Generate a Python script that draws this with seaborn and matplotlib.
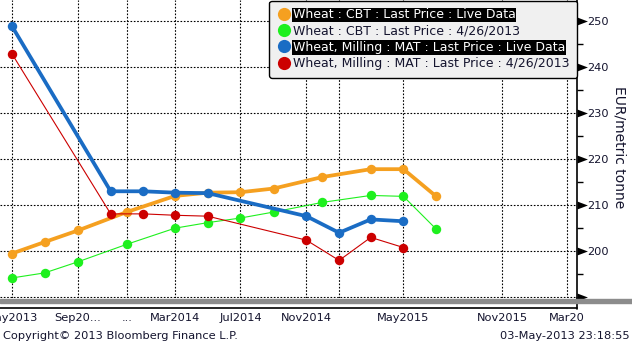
import datetime as dt
import matplotlib
matplotlib.use("Agg")
import matplotlib.pyplot as plt
from matplotlib.lines import Line2D
from matplotlib.patches import Rectangle
from matplotlib.path import Path
import pandas as pd
import seaborn as sns

# ---- data ----
cbt_dates = ["2013-05-01", "2013-07-01", "2013-09-01", "2013-12-01", "2014-03-01", "2014-05-01",
             "2014-07-01", "2014-09-01", "2014-12-01", "2015-03-01", "2015-05-01", "2015-07-01"]
cbt_live = [199.5, 202.0, 204.5, 208.5, 212.0, 212.7, 212.8, 213.6, 216.1, 217.8, 217.8, 211.9]
cbt_prev = [194.2, 195.3, 197.7, 201.5, 205.0, 206.2, 207.2, 208.5, 210.6, 212.1, 211.9, 204.8]

mat_dates = ["2013-05-01", "2013-11-01", "2014-01-01", "2014-03-01", "2014-05-01",
             "2014-11-01", "2015-01-01", "2015-03-01", "2015-05-01"]
mat_live = [248.8, 213.0, 213.0, 212.7, 212.6, 207.6, 204.0, 206.9, 206.5]
mat_prev = [242.8, 208.1, 208.1, 207.8, 207.6, 202.4, 198.0, 203.0, 200.8]

series_names = ["Wheat : CBT : Last Price : Live Data",
                "Wheat : CBT : Last Price : 4/26/2013",
                "Wheat, Milling : MAT : Last Price : Live Data",
                "Wheat, Milling : MAT : Last Price : 4/26/2013"]
series_colors = ["#F5A020", "#1EF01E", "#1A6CC4", "#CC0000"]

tick_dates = ["2013-05-01", "2013-09-01", "2013-12-01", "2014-03-01", "2014-07-01",
              "2014-11-01", "2015-01-01", "2015-05-01", "2015-11-01", "2016-03-01"]
tick_labels = ["May2013", "Sep20...", "...", "Mar2014", "Jul2014", "Nov2014", "",
               "May2015", "Nov2015", "Mar20"]
y_ticks = [190, 200, 210, 220, 230, 240, 250]
y_tick_labels = ["", "200", "210", "220", "230", "240", "250"]

# ---- frames ----
frames = [
    pd.DataFrame({"date": pd.to_datetime(cbt_dates), "price": cbt_live}),
    pd.DataFrame({"date": pd.to_datetime(cbt_dates), "price": cbt_prev}),
    pd.DataFrame({"date": pd.to_datetime(mat_dates), "price": mat_live}),
    pd.DataFrame({"date": pd.to_datetime(mat_dates), "price": mat_prev}),
]
widths = [2.7, 0.8, 2.7, 0.8]
draw_order = [1, 3, 0, 2]

sns.set_style("white")
plt.rcParams["font.family"] = ["DejaVu Sans"]
txt_color = "#14142e"

fig = plt.figure(figsize=(6.32, 3.44), dpi=100)
ax = fig.add_axes([0.0, (344 - 298) / 344, 577 / 632, 298 / 344])

for i in draw_order:
    sns.lineplot(data=frames[i], x="date", y="price", ax=ax, color=series_colors[i],
                 linewidth=widths[i], marker="o", markersize=6.8, markeredgewidth=0,
                 legend=False, zorder=3 + i)

ax.set_xlim(pd.Timestamp("2013-04-08 14:00"), pd.Timestamp("2016-03-19 16:00"))
ax.set_ylim(189.85, 254.5)
ax.set_xlabel("")
ax.set_ylabel("")

ax.set_xticks(pd.to_datetime(tick_dates))
ax.set_xticklabels(tick_labels)
ax.set_yticks(y_ticks)
ax.set_yticklabels(y_tick_labels)
ax.set_yticks([195, 205, 215, 225, 235, 245], minor=True)

ax.yaxis.tick_right()
ax.tick_params(axis="x", length=0, pad=11, labelsize=8.2, colors=txt_color)
ax.tick_params(axis="y", which="major", length=0, pad=7, labelsize=8.2, colors=txt_color)
ax.tick_params(axis="y", which="minor", direction="out", length=4, width=1, color="black", right=True, left=False)

ax.grid(True, which="major", color="black", linestyle=(0, (1.5, 1.5)), linewidth=0.8)
for side in ["top", "left", "bottom"]:
    ax.spines[side].set_visible(False)
ax.spines["right"].set_color("black")
ax.spines["right"].set_linewidth(1.2)

# arrow-shaped major ticks on the right spine (triangle to the right of the spine)
arrow = Path([(0, -0.38), (1, 0), (0, 0.38), (0, -0.38)],
             [Path.MOVETO, Path.LINETO, Path.LINETO, Path.CLOSEPOLY])
ytr = ax.get_yaxis_transform()
ax.plot([1.0] * len(y_ticks), y_ticks, transform=ytr, linestyle="", marker=arrow,
        markersize=15, markeredgewidth=0, color="black", clip_on=False, zorder=30)

# legend
handles = [Line2D([], [], linestyle="", marker="o", markersize=9.5, markeredgewidth=0,
                  color=c) for c in series_colors]
leg = ax.legend(handles, series_names, loc="upper right", bbox_to_anchor=(1.0, 0.998),
                frameon=True, fancybox=True, framealpha=1, facecolor="#f0f0f0",
                edgecolor="black", fontsize=9.0, handlelength=1.1, handletextpad=0.15,
                labelspacing=0.26, borderpad=0.62, borderaxespad=0.0)
leg.get_frame().set_linewidth(1.0)
leg.set_zorder(20)
for k, t in enumerate(leg.get_texts()):
    if k in (0, 2):
        t.set_color("white")
        t.set_bbox(dict(facecolor="black", edgecolor="none", pad=0.5))
    else:
        t.set_color(txt_color)

# bottom strip decorations
fig.add_artist(Rectangle((0, (344 - 303) / 344), 1, 4 / 344, transform=fig.transFigure,
                         color="#8c8c8c", zorder=5))
fig.add_artist(Line2D([0, 577 / 632], [(344 - 307.5) / 344] * 2, transform=fig.transFigure,
                      color="black", linewidth=1.2))
fig.add_artist(Line2D([577 / 632] * 2, [(344 - 309) / 344, (344 - 298) / 344],
                      transform=fig.transFigure, color="black", linewidth=1.2))

fig.text(0.004, (344 - 336) / 344, "Copyright\u00a9 2013 Bloomberg Finance L.P.",
         ha="left", va="center", fontsize=8.2, color=txt_color)
fig.text(0.997, (344 - 336) / 344, "03-May-2013 23:18:55",
         ha="right", va="center", fontsize=8.2, color=txt_color)
fig.text(620 / 632, 1 - 147 / 344, "EUR/metric tonne", rotation=-90, ha="center",
         va="center", fontsize=10, color=txt_color)

fig.savefig("out.png", dpi=100)
